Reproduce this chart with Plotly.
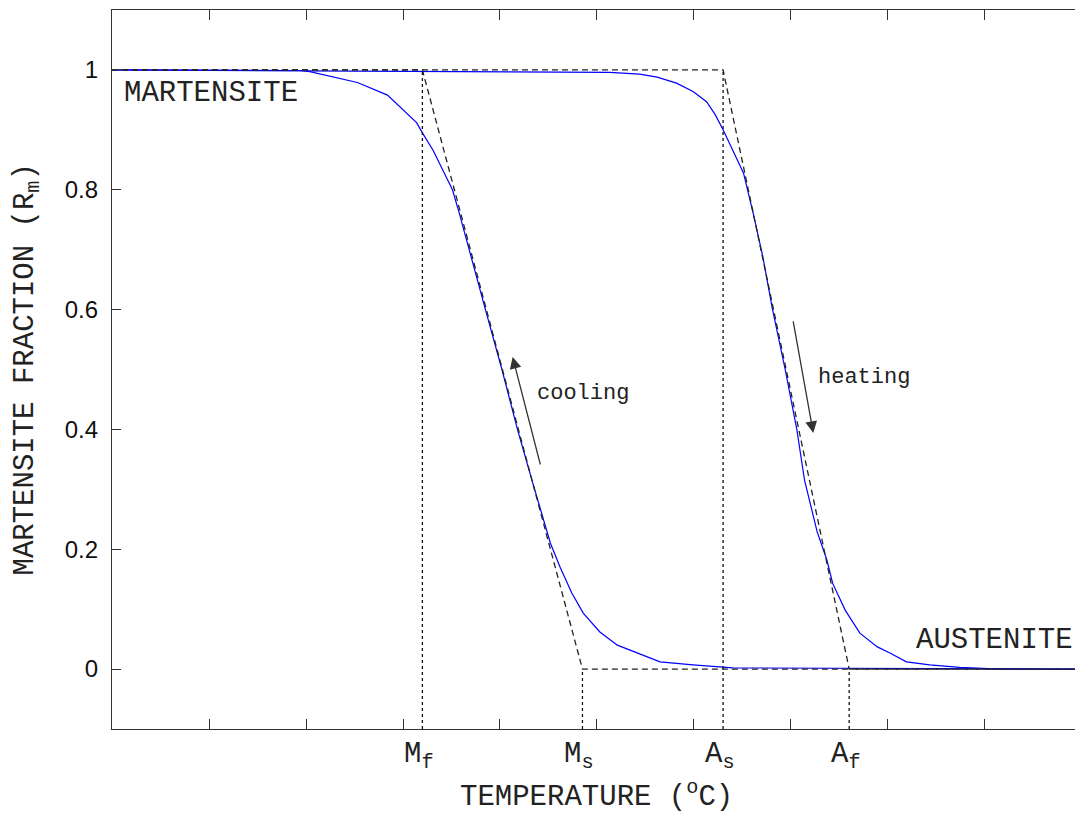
import plotly.graph_objects as go

# ---- data (temperature in arbitrary units 0..100, fraction 0..1) ----
Mf, Ms, As, Af = 32.0, 48.5, 63.0, 76.0
T_cool = [0, 16.5, 19.4, 20.4, 22.2, 25.3, 28.4, 30.0, 31.4, 32.0, 33.1, 34.1, 35.1, 35.8,
          36.8, 38.5, 40.2, 41.8, 43.3, 45.2, 46.2, 47.4, 48.6, 50.3, 52.1, 54.1, 56.5,
          59.9, 64.0, 100]
R_cool = [1.0, 1.0, 0.999, 0.997, 0.99, 0.979, 0.958, 0.933, 0.912, 0.895, 0.866, 0.833,
          0.8, 0.761, 0.70, 0.60, 0.50, 0.40, 0.315, 0.21, 0.17, 0.127, 0.093, 0.062, 0.04,
          0.027, 0.012, 0.007, 0.002, 0.0]
T_heat = [0, 51.3, 54.4, 56.2, 58.2, 59.9, 61.3, 62.2, 63.0, 64.0, 65.1, 66.1, 67.1, 68.1,
          69.4, 70.6, 71.4, 72.7, 73.7, 74.3, 75.6, 77.1, 78.9, 80.2, 81.9, 84.3, 87.4,
          91.5, 100]
R_heat = [1.0, 0.996, 0.993, 0.988, 0.978, 0.964, 0.947, 0.925, 0.9, 0.866, 0.828, 0.761,
          0.688, 0.6, 0.5, 0.4, 0.315, 0.229, 0.182, 0.143, 0.098, 0.06, 0.037, 0.027,
          0.012, 0.007, 0.003, 0.0, 0.0]
T_ideal_cool = [0, Mf, Ms, 100]
T_ideal_heat = [0, As, Af, 100]
R_ideal = [1, 1, 0, 0]
Y_MIN, Y_MAX = -0.1, 1.1
y_ticks = [0, 0.2, 0.4, 0.6, 0.8, 1]
y_ticklabels = ["0", "0.2", "0.4", "0.6", "0.8", "1"]
x_ticks = [10, 20, 30, 40, 50, 60, 70, 80, 90]
markers = [("M<sub>f</sub>", Mf, 1), ("M<sub>s</sub>", Ms, 0),
           ("A<sub>s</sub>", As, 1), ("A<sub>f</sub>", Af, 0)]

MONO = "Liberation Mono, Courier New, monospace"
SANS = "Liberation Sans, Arial, sans-serif"

fig = go.Figure()
blue = dict(color="#0000ff", width=1.2)
fig.add_trace(go.Scatter(x=T_cool, y=R_cool, mode="lines", line=blue, hoverinfo="skip"))
fig.add_trace(go.Scatter(x=T_heat, y=R_heat, mode="lines", line=blue, hoverinfo="skip"))
dash = dict(color="#222222", width=1.3, dash="6px,4px")
fig.add_trace(go.Scatter(x=T_ideal_cool, y=R_ideal, mode="lines", line=dash, hoverinfo="skip"))
fig.add_trace(go.Scatter(x=T_ideal_heat, y=R_ideal, mode="lines", line=dash, hoverinfo="skip"))
for label, xv, top in markers:
    fig.add_trace(go.Scatter(x=[xv, xv], y=[Y_MIN, top], mode="lines",
                             line=dict(color="#111111", width=1.3, dash="dot"),
                             hoverinfo="skip"))

ann = []
for label, xv, top in markers:
    ann.append(dict(x=xv, y=-0.0376, xref="x", yref="paper", text=label, showarrow=False,
                    xanchor="center", yanchor="middle", xshift=-3,
                    font=dict(family=MONO, size=29, color="#222")))
ann.append(dict(x=0.5026, y=-0.0918, xref="paper", yref="paper",
                text="TEMPERATURE (<sup>o</sup>C)", showarrow=False,
                xanchor="center", yanchor="middle", font=dict(family=MONO, size=29, color="#222")))
ann.append(dict(x=-0.0893, y=0.5, xref="paper", yref="paper",
                text="MARTENSITE FRACTION (R<sub>m</sub>)", textangle=-90, showarrow=False,
                xanchor="center", yanchor="middle", font=dict(family=MONO, size=29, color="#222")))
ann.append(dict(x=1.03, y=0.961, xref="x", yref="y", text="MARTENSITE", showarrow=False,
                xanchor="left", yanchor="middle", font=dict(family=MONO, size=29, color="#222")))
ann.append(dict(x=82.7, y=0.047, xref="x", yref="y", text="AUSTENITE", showarrow=False,
                xanchor="left", yanchor="middle", font=dict(family=MONO, size=29, color="#222")))
ann.append(dict(x=43.6, y=0.46, xref="x", yref="y", text="cooling", showarrow=False,
                xanchor="left", yanchor="middle", font=dict(family=MONO, size=22, color="#222")))
ann.append(dict(x=72.6, y=0.487, xref="x", yref="y", text="heating", showarrow=False,
                xanchor="left", yanchor="middle", font=dict(family=MONO, size=22, color="#222")))
ann.append(dict(x=41.3, y=0.521, ax=44.2, ay=0.339, xref="x", yref="y", axref="x", ayref="y",
                text="", showarrow=True, arrowhead=2, arrowsize=1.8, arrowwidth=1.3,
                arrowcolor="#333"))
ann.append(dict(x=72.3, y=0.394, ax=70.2, ay=0.583, xref="x", yref="y", axref="x", ayref="y",
                text="", showarrow=True, arrowhead=2, arrowsize=1.8, arrowwidth=1.3,
                arrowcolor="#333"))

fig.update_layout(
    width=1075, height=815,
    margin=dict(l=112, r=0, t=10, b=86),
    plot_bgcolor="white", paper_bgcolor="white",
    showlegend=False,
    annotations=ann,
    xaxis=dict(range=[0, 99.28], tickvals=x_ticks, ticktext=[""] * len(x_ticks),
               ticks="inside", ticklen=10, tickwidth=1.2, tickcolor="#333",
               showline=True, linecolor="#333", linewidth=1.3, mirror="ticks",
               showgrid=False, zeroline=False, fixedrange=True),
    yaxis=dict(range=[Y_MIN, Y_MAX], tickvals=y_ticks, ticktext=y_ticklabels,
               ticks="inside", ticklen=9, tickwidth=1.2, tickcolor="#333",
               showline=True, linecolor="#333", linewidth=1.3,
               showgrid=False, zeroline=False, fixedrange=True,
               tickfont=dict(family=SANS, size=24, color="#111"), ticklabelstandoff=8),
)

fig.write_html("out.html")
